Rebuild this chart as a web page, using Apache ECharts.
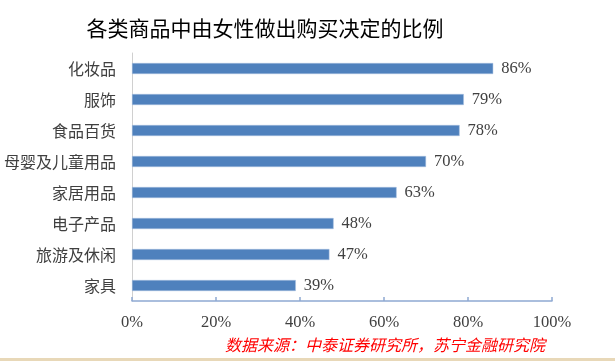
<!DOCTYPE html>
<html>
<head>
<meta charset="utf-8">
<script src="https://cdn.jsdelivr.net/npm/echarts@6/dist/echarts.min.js"></script>
<style>html,body{margin:0;padding:0;background:#fff;}#c{width:615px;height:361px;}</style>
</head>
<body>
<div id="c"></div>
<script>
const categories = ['化妆品', '服饰', '食品百货', '母婴及儿童用品', '家居用品', '电子产品', '旅游及休闲', '家具'];
const values = [86, 79, 78, 70, 63, 48, 47, 39];
const xTicks = [0, 20, 40, 60, 80, 100];
const titleText = '各类商品中由女性做出购买决定的比例';
const sourceText = '数据来源：中泰证券研究所，苏宁金融研究院';

const chart = echarts.init(document.getElementById('c'));
chart.setOption({
  animation: false,
  backgroundColor: '#fff',
  title: {
    text: titleText,
    left: 260, top: 13, textAlign: 'center',
    textStyle: { fontSize: 21, fontWeight: 'normal', color: '#000', fontFamily: 'Noto Sans CJK SC' }
  },
  grid: { left: 132, right: 63, top: 53, bottom: 60 },
  xAxis: {
    type: 'value', min: 0, max: 100, interval: 20,
    axisLine: { show: true, lineStyle: { color: '#8EA9D2', width: 1.5 } },
    axisTick: { show: true, inside: true, length: 4, lineStyle: { color: '#8EA9D2', width: 1.5 } },
    splitLine: { show: false },
    axisLabel: {
      margin: 13, fontSize: 16.5, color: '#404040', fontFamily: 'Liberation Serif',
      formatter: v => xTicks.includes(v) ? v + '%' : ''
    }
  },
  yAxis: {
    type: 'category', data: categories, inverse: true,
    axisLine: { show: true, lineStyle: { color: '#D0D0D0', width: 1 } },
    axisTick: { show: false },
    axisLabel: { margin: 16, fontSize: 16, color: '#404040', fontFamily: 'Noto Sans CJK SC' }
  },
  series: [{
    type: 'bar', data: values, barWidth: 11,
    itemStyle: { color: '#4F81BD', borderColor: '#A9C0E0', borderWidth: 0.5 },
    label: {
      show: true, position: 'right', distance: 8, formatter: '{c}%',
      fontSize: 16.5, color: '#404040', fontFamily: 'Liberation Serif'
    }
  }],
  graphic: [
    {
      type: 'text', left: 225, top: 337,
      style: { text: sourceText, fontSize: 16, fontStyle: 'italic', fill: '#FF0000', fontFamily: 'Noto Sans CJK SC' }
    },
    { type: 'rect', left: 0, top: 358, shape: { width: 615, height: 3 }, style: { fill: '#E8D8B8' } }
  ]
});
</script>
</body>
</html>
